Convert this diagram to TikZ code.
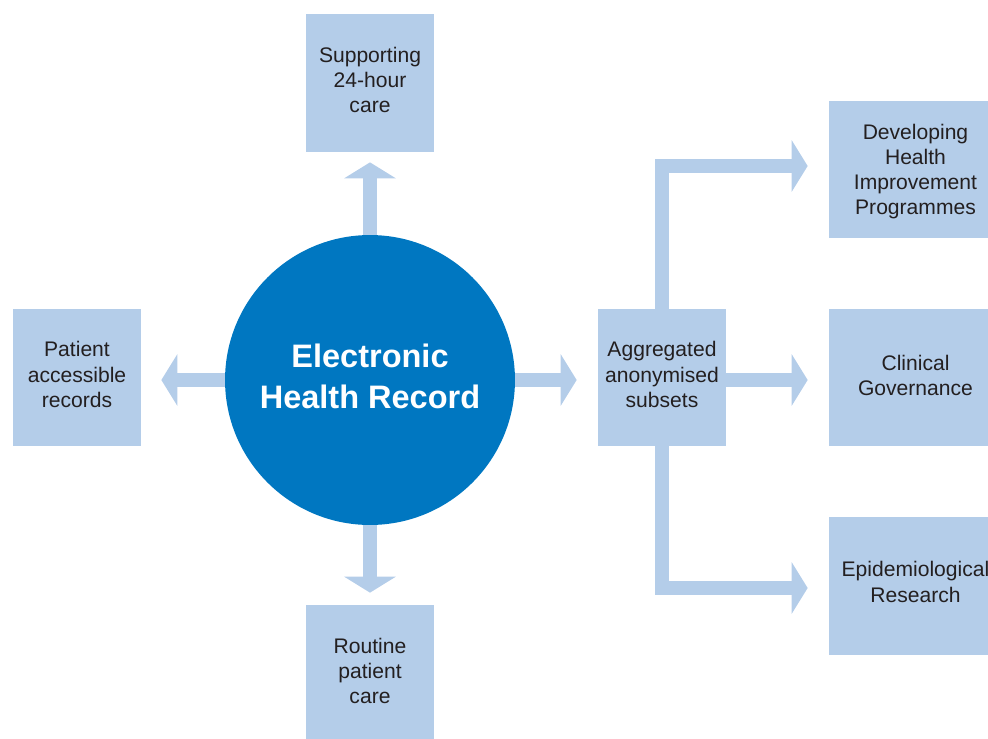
\documentclass[tikz,border=0pt]{standalone}
\usepackage{fontspec}
\setmainfont{Liberation Sans}
\usetikzlibrary{arrows.meta}
\definecolor{boxblue}{RGB}{180,205,233}
\definecolor{ehrblue}{RGB}{0,119,193}
\definecolor{txtgray}{RGB}{35,31,32}
\tikzset{
    infobox/.style={fill=boxblue,inner sep=0pt},
    boxtext/.style={text=txtgray,align=center,inner sep=0pt,yshift=#1,
        font=\fontsize{12}{14.4}\selectfont},
    boxtext/.default=0.06cm,
    flow/.style={draw=boxblue,line width=0.28cm,
        -{Triangle[width=1.02cm,length=0.32cm]}}
}

\begin{document}
\begin{tikzpicture}[x=0.02cm,y=-0.02cm]
        \useasboundingbox (0,0) rectangle (988,738);
        \node[infobox,minimum width=2.56cm,minimum height=2.76cm,
            label={[boxtext]center:{Supporting\\24-hour\\care}}] (care24) at (370,83) {};
        \node[infobox,minimum width=2.56cm,minimum height=2.74cm,
            label={[boxtext]center:{Patient\\accessible\\records}}] (patient) at (77,377.5) {};
        \node[infobox,minimum width=2.56cm,minimum height=2.76cm,
            label={[boxtext]center:{Routine\\patient\\care}}] (routine) at (370,674) {};
        \node[infobox,minimum width=2.56cm,minimum height=2.74cm,
            label={[boxtext]center:{Aggregated\\anonymised\\subsets}}] (subsets) at (662,377.5) {};
        \node[infobox,minimum width=3.18cm,minimum height=2.74cm,
            label={[boxtext=-0.04cm,xshift=0.14cm]center:{Developing\\Health\\Improvement\\Programmes}}] (himp) at (908.5,169.5) {};
        \node[infobox,minimum width=3.18cm,minimum height=2.74cm,
            label={[boxtext=0.04cm,xshift=0.14cm]center:{Clinical\\Governance}}] (clinical) at (908.5,377.5) {};
        \node[infobox,minimum width=3.18cm,minimum height=2.76cm,
            label={[boxtext=0.08cm,xshift=0.14cm]center:{Epidemiological\\Research}}] (epi) at (908.5,586) {};
        \draw[flow,shorten >=0.2cm] (370,380) -- (care24.south);
        \draw[flow,shorten >=0.24cm] (370,380) -- (routine.north);
        \draw[flow,shorten >=0.4cm] (370,380) -- (patient.east |- 0,380);
        \draw[flow,shorten >=0.42cm] (370,380) -- (subsets.west |- 0,380);
        \draw[flow,shorten >=0.42cm] (subsets.east |- 0,380) -- (clinical.west |- 0,380);
        \draw[flow,shorten >=0.42cm] (subsets.north) |- ([yshift=0.07cm]himp.west);
        \draw[flow,shorten >=0.42cm] (subsets.south) |- ([yshift=-0.04cm]epi.west);
        \node[circle,fill=ehrblue,minimum size=5.8cm,inner sep=0pt,
            label={[text=white,align=center,inner sep=0pt,yshift=0.07cm,
            font=\bfseries\fontsize{18.5}{23.4}\selectfont]center:{Electronic\\Health Record}}] (ehr) at (370,380) {};
    \end{tikzpicture}
\end{document}
